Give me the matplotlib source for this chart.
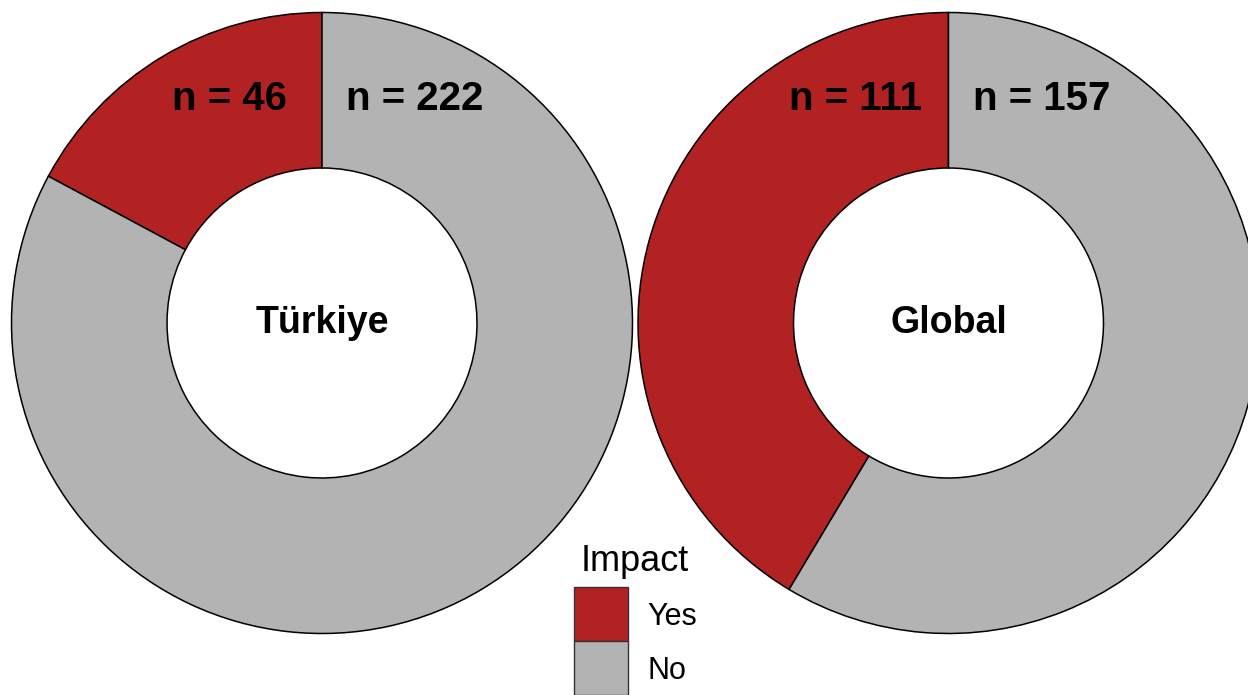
import matplotlib.pyplot as plt
from matplotlib.patches import Rectangle

plt.rcParams['font.family'] = ['Liberation Sans', 'DejaVu Sans']

regions = ["Türkiye", "Global"]
categories = ["Yes", "No"]
yes_counts = [46, 111]
no_counts = [222, 157]
colors = ["#B22222", "#B3B3B3"]

W, H = 1248, 695
fig = plt.figure(figsize=(W / 100, H / 100), dpi=100)
ax = fig.add_axes([0, 0, 1, 1])

# donut geometry in pixel units (y measured upward)
centers = [(322, H - 323), (948.5, H - 323)]
r_out = 310.5
ring = 155.5

for (cx, cy), name, yes, no in zip(centers, regions, yes_counts, no_counts):
    ax.pie(
        [yes, no],
        colors=colors,
        startangle=90,
        counterclock=True,
        center=(cx, cy),
        radius=r_out,
        wedgeprops=dict(width=ring, edgecolor="black", linewidth=1.1),
    )
    ax.text(cx - 93, H - 110, f"n = {yes}", ha="center", va="baseline",
            fontsize=29, fontweight="bold")
    ax.text(cx + 93, H - 110, f"n = {no}", ha="center", va="baseline",
            fontsize=29, fontweight="bold")
    ax.text(cx, cy, name, ha="center", va="center",
            fontsize=27, fontweight="bold")

# legend
ax.text(581, H - 571, "Impact", ha="left", va="baseline", fontsize=26)
box = 54
for i, (cat, col) in enumerate(zip(categories, colors)):
    top = 587 + i * box
    ax.add_patch(Rectangle((574, H - top - box), box, box, facecolor=col,
                           edgecolor="#333333", linewidth=1.0, clip_on=False))
    ax.text(647, H - top - box / 2 - 3, cat, ha="left", va="center",
            fontsize=22)

ax.set_xlim(0, W)
ax.set_ylim(0, H)
ax.set_aspect("equal")
ax.axis("off")

fig.savefig("out.png", dpi=100)
